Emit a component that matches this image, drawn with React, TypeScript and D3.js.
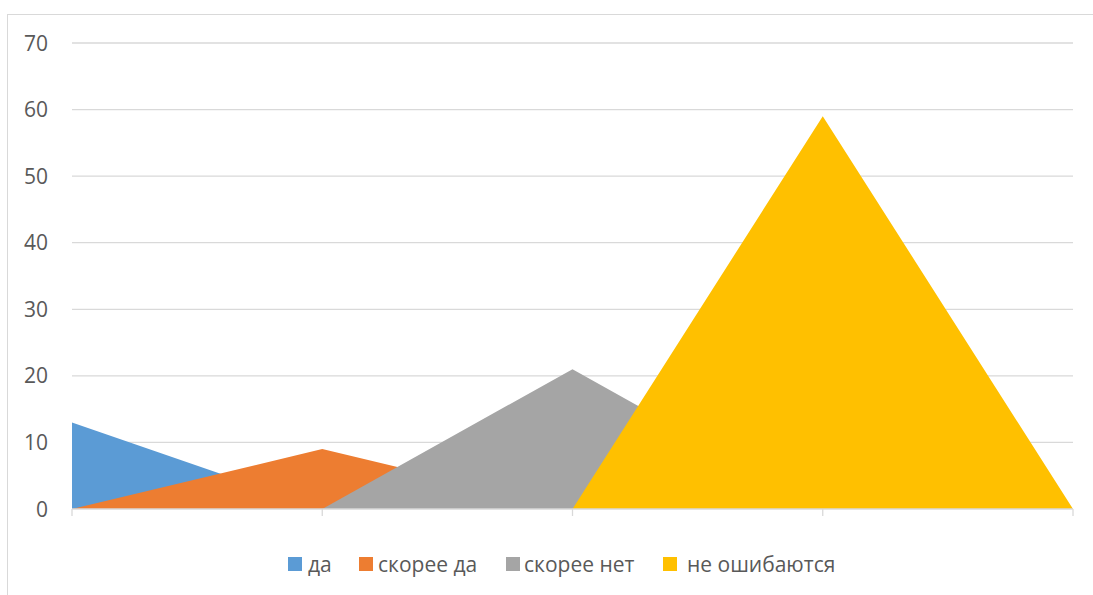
import React, { useEffect, useRef } from 'react';
import * as d3 from 'd3';

const categories = ['1', '2', '3', '4', '5'];
const seriesNames = ['да', 'скорее да', 'скорее нет', 'не ошибаются'];
const seriesColors = ['#5B9BD5', '#ED7D31', '#A5A5A5', '#FFC000'];
const daValues = [13, 0, 0, 0, 0];
const skoreeDaValues = [0, 9, 0, 0, 0];
const skoreeNetValues = [0, 0, 21, 0, 0];
const neOshibayutsyaValues = [0, 0, 0, 59, 0];
const yTicks = [0, 10, 20, 30, 40, 50, 60, 70];

const W = 1093;
const H = 595;

const App = () => {
    const anchor = useRef<SVGSVGElement>(null);

    useEffect(() => {
        const svg = d3.select(anchor.current);
        svg.selectAll('*').remove();

        const series = [daValues, skoreeDaValues, skoreeNetValues, neOshibayutsyaValues];
        const font = "'Open Sans', 'Noto Sans', sans-serif";
        const textColor = '#595959';

        // chart border
        svg.append('rect')
            .attr('x', 7.5).attr('y', 14.5)
            .attr('width', W + 20).attr('height', H + 20)
            .attr('fill', 'white').attr('stroke', '#d9d9d9');

        const x = d3.scalePoint().domain(categories).range([72, 1073]);
        const y = d3.scaleLinear().domain([0, 70]).range([509, 43]);

        // gridlines
        svg.append('g').selectAll('line').data(yTicks.filter(t => t > 0)).enter().append('line')
            .attr('x1', 72).attr('x2', 1073)
            .attr('y1', d => y(d)).attr('y2', d => y(d))
            .attr('stroke', '#d9d9d9').attr('stroke-width', 1.3);

        // y labels
        svg.append('g').selectAll('text').data(yTicks).enter().append('text')
            .attr('x', 48).attr('y', d => y(d) + 7.5)
            .attr('text-anchor', 'end')
            .attr('font-family', font).attr('font-size', 21)
            .attr('fill', textColor)
            .text(d => d);

        // areas
        const area = d3.area<number>()
            .x((d, i) => x(categories[i]) as number)
            .y0(y(0))
            .y1(d => y(d));

        svg.append('g').selectAll('path').data(series).enter().append('path')
            .attr('d', d => area(d))
            .attr('fill', (d, i) => seriesColors[i]);

        // x axis
        svg.append('line')
            .attr('x1', 72).attr('x2', 1073)
            .attr('y1', y(0)).attr('y2', y(0))
            .attr('stroke', '#d9d9d9').attr('stroke-width', 1.3);
        svg.append('g').selectAll('line').data(categories).enter().append('line')
            .attr('x1', d => x(d) as number).attr('x2', d => x(d) as number)
            .attr('y1', y(0)).attr('y2', y(0) + 7)
            .attr('stroke', '#d9d9d9').attr('stroke-width', 1.3);

        // legend
        const legendX = [288, 359, 506, 663];
        const legendTextDx = [20, 19, 18, 24];
        const legend = svg.append('g').selectAll('g').data(seriesNames).enter().append('g')
            .attr('transform', (d, i) => 'translate(' + legendX[i] + ' 557)');
        legend.append('rect')
            .attr('width', 14).attr('height', 14)
            .attr('fill', (d, i) => seriesColors[i]);
        legend.append('text')
            .attr('x', (d, i) => legendTextDx[i]).attr('y', 15)
            .attr('font-family', font).attr('font-size', 21)
            .attr('fill', textColor)
            .text(d => d);
    }, []);

    return <svg ref={anchor} width={W} height={H} style={{ position: 'absolute', left: 0, top: 0 }} />;
};

export default App;
